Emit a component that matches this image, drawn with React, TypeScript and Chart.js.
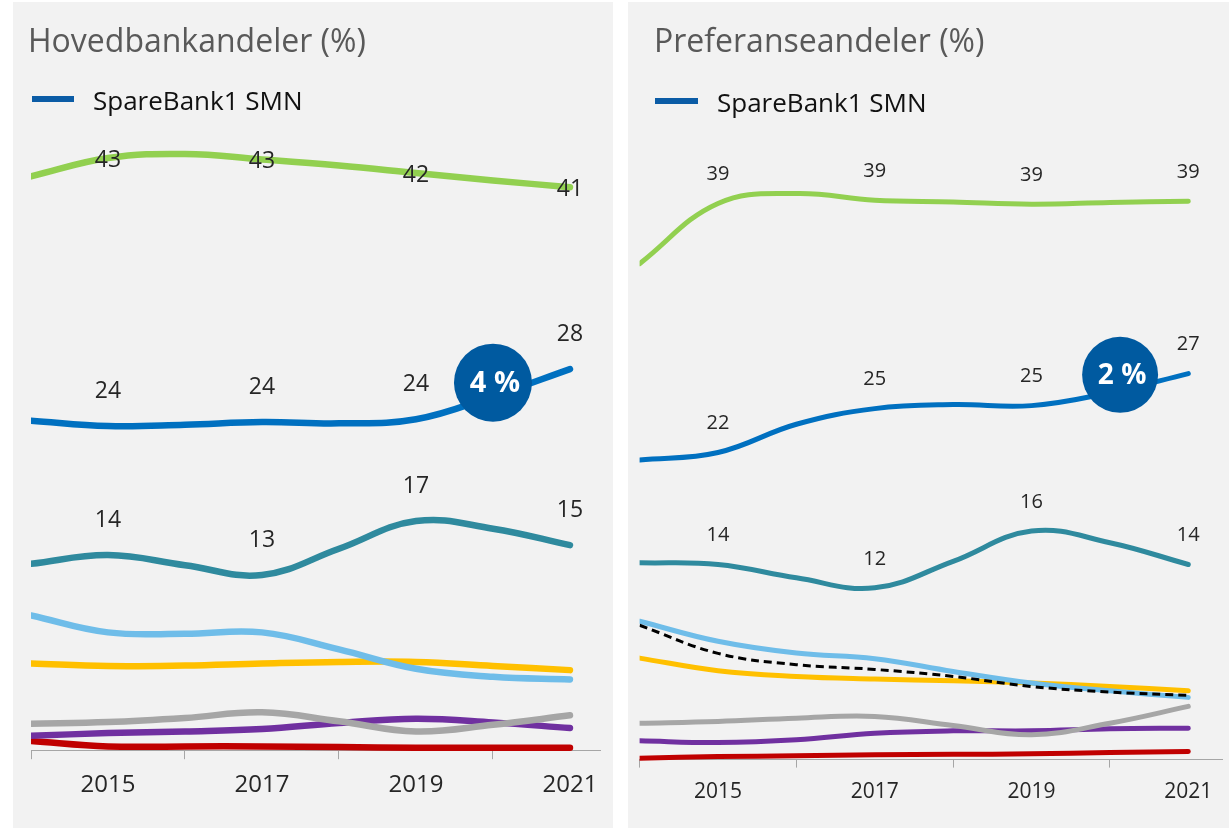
import React, { useEffect, useRef } from 'react';
import { Chart, registerables } from 'chart.js';

Chart.register(...registerables);

// ---------- data ----------
const years = [2014, 2015, 2016, 2017, 2018, 2019, 2020, 2021];
const labelYears = [2015, 2017, 2019, 2021];
const legendLabel = 'SpareBank1 SMN';

// Hovedbankandeler (%)
const hbSmn = [24.1, 23.7, 23.8, 24.0, 23.9, 24.2, 25.9, 27.9];
const hbGreen = [42.1, 43.45, 43.75, 43.35, 42.9, 42.35, 41.8, 41.3];
const hbTeal = [13.55, 14.2, 13.45, 12.73, 14.66, 16.7, 16.14, 14.93];
const hbLightBlue = [9.75, 8.5, 8.4, 8.5, 7.25, 5.82, 5.23, 5.03];
const hbYellow = [6.21, 6.02, 6.06, 6.21, 6.32, 6.32, 6.02, 5.72];
const hbGray = [1.77, 1.89, 2.19, 2.61, 1.95, 1.2, 1.69, 2.39];
const hbPurple = [0.88, 1.08, 1.2, 1.38, 1.82, 2.14, 1.87, 1.45];
const hbRed = [0.5, 0.1, 0.1, 0.1, 0.05, 0.0, 0.0, 0.0];
const hbBadge = { year: 2020, value: 26.9, text: '4 %' };

// Preferanseandeler (%)
const prSmn = [21.1, 21.63, 23.6, 24.69, 24.97, 24.9, 25.8, 27.13];
const prGreen = [34.8, 39.0, 39.7, 39.23, 39.11, 38.95, 39.07, 39.16];
const prTeal = [13.94, 13.82, 12.89, 12.19, 14.04, 16.15, 15.34, 13.82];
const prLightBlue = [9.86, 8.46, 7.64, 7.25, 6.36, 5.55, 5.01, 4.55];
const prDashed = [9.58, 7.62, 6.83, 6.5, 6.01, 5.31, 4.92, 4.69];
const prYellow = [7.29, 6.41, 6.01, 5.83, 5.71, 5.55, 5.31, 5.01];
const prGray = [2.75, 2.87, 3.1, 3.22, 2.59, 1.94, 2.75, 3.92];
const prPurple = [1.52, 1.4, 1.59, 2.05, 2.22, 2.22, 2.36, 2.4];
const prRed = [0.3, 0.42, 0.47, 0.54, 0.58, 0.61, 0.7, 0.77];
const prBadge = { year: 2020.13, value: 27.05, text: '2 %' };

// ---------- styles ----------
const C = {
  smn: '#0070C0',
  legend: '#0B5CA6',
  badge: '#005AA0',
  green: '#92D050',
  teal: '#2F8A9E',
  lightBlue: '#6FBDE9',
  yellow: '#FFC000',
  gray: '#A6A6A6',
  purple: '#7030A0',
  red: '#C00000',
  dashed: '#000000',
  text: '#262626',
  title: '#595959',
  axis: '#A6A6A6',
  panel: '#F2F2F2',
};
const FONT = '"Open Sans", "Noto Sans", sans-serif';

const valueLabels = {
  id: 'valueLabels',
  afterDatasetsDraw(chart: any, _args: any, opts: any) {
    const { ctx } = chart;
    ctx.save();
    ctx.font = `${opts.size}px ${FONT}`;
    ctx.fillStyle = C.text;
    ctx.textAlign = 'center';
    ctx.textBaseline = 'middle';
    chart.data.datasets.forEach((ds: any, di: number) => {
      if (ds.labelOffset === undefined) return;
      const meta = chart.getDatasetMeta(di);
      ds.data.forEach((pt: any, i: number) => {
        if (!labelYears.includes(pt.x)) return;
        const el = meta.data[i];
        ctx.fillText(String(Math.round(pt.y)), el.x, el.y + ds.labelOffset);
      });
    });
    ctx.restore();
  },
};

const badgePlugin = {
  id: 'badge',
  afterDatasetsDraw(chart: any, _args: any, opts: any) {
    const { ctx, scales } = chart;
    const cx = scales.x.getPixelForValue(opts.year);
    const cy = scales.y.getPixelForValue(opts.value);
    ctx.save();
    ctx.beginPath();
    ctx.arc(cx, cy, opts.radius, 0, Math.PI * 2);
    ctx.fillStyle = C.badge;
    ctx.fill();
    ctx.fillStyle = '#FFFFFF';
    ctx.font = `bold ${opts.size}px ${FONT}`;
    ctx.textAlign = 'center';
    ctx.textBaseline = 'middle';
    ctx.fillText(opts.text, cx + 2, cy + 1);
    ctx.restore();
  },
};

type Series = { values: number[]; color: string; width?: number; dash?: number[]; labelOffset?: number };

type PanelSpec = {
  left: number;
  width: number;
  title: string;
  titleLeft: number;
  legendLineLeft: number;
  legendLineTop: number;
  legendLineWidth: number;
  legendTextLeft: number;
  legendTextTop: number;
  series: Series[];
  lineWidth: number;
  badge: { year: number; value: number; text: string };
  badgeRadius: number;
  badgeSize: number;
  xMax: number;
  yMin: number;
  yMax: number;
  padding: { left: number; right: number; top: number; bottom: number };
  tickLength: number;
  tickPadding: number;
  tickFont: number;
  labelFont: number;
};

const toPoints = (vals: number[]) => years.map((yr, i) => ({ x: yr, y: vals[i] }));

function ChartPanel({ spec }: { spec: PanelSpec }) {
  const ref = useRef<HTMLCanvasElement | null>(null);
  useEffect(() => {
    if (!ref.current) return;
    const chart = new Chart(ref.current, {
      type: 'line',
      data: {
        datasets: spec.series.map((s) => ({
          data: toPoints(s.values),
          borderColor: s.color,
          backgroundColor: s.color,
          borderWidth: s.width ?? spec.lineWidth,
          borderDash: s.dash ?? [],
          borderCapStyle: s.dash ? 'butt' : 'round',
          borderJoinStyle: 'round',
          pointRadius: 0,
          pointHoverRadius: 0,
          tension: 0.4,
          fill: false,
          clip: { left: 0, top: false, right: false, bottom: false },
          labelOffset: s.labelOffset,
        })) as any,
      },
      options: {
        animation: false,
        responsive: false,
        events: [],
        layout: { padding: spec.padding },
        plugins: {
          legend: { display: false },
          tooltip: { enabled: false },
          title: { display: false },
          valueLabels: { size: spec.labelFont },
          badge: { ...spec.badge, radius: spec.badgeRadius, size: spec.badgeSize },
        } as any,
        scales: {
          x: {
            type: 'linear',
            min: years[0],
            max: spec.xMax,
            afterBuildTicks: (axis: any) => {
              axis.ticks = years.map((v) => ({ value: v }));
            },
            ticks: {
              autoSkip: false,
              maxRotation: 0,
              minRotation: 0,
              padding: spec.tickPadding,
              color: C.text,
              font: { family: FONT, size: spec.tickFont, lineHeight: 1.2 },
              callback: (v: any) => (labelYears.includes(Number(v)) ? String(v) : ''),
            },
            grid: {
              drawOnChartArea: false,
              drawTicks: true,
              tickLength: spec.tickLength,
              tickWidth: 1,
              tickColor: (ctx: any) =>
                ctx.tick && ctx.tick.value % 2 === 0 ? C.axis : 'rgba(0,0,0,0)',
            },
            border: { display: true, color: C.axis, width: 1 },
          },
          y: { display: false, min: spec.yMin, max: spec.yMax },
        },
      },
      plugins: [valueLabels, badgePlugin],
    } as any);
    return () => chart.destroy();
  }, [spec]);

  return (
    <div
      style={{
        position: 'absolute',
        left: spec.left,
        top: 2,
        width: spec.width,
        height: 826,
        background: C.panel,
        fontFamily: FONT,
      }}
    >
      <canvas ref={ref} width={spec.width} height={826} style={{ position: 'absolute', left: 0, top: 0 }} />
      <div
        style={{
          position: 'absolute',
          left: spec.titleLeft,
          top: 22,
          fontSize: 32,
          lineHeight: '32px',
          color: C.title,
          whiteSpace: 'nowrap',
        }}
      >
        {spec.title}
      </div>
      <div
        style={{
          position: 'absolute',
          left: spec.legendLineLeft,
          top: spec.legendLineTop,
          width: spec.legendLineWidth,
          height: 6,
          background: C.legend,
        }}
      />
      <div
        style={{
          position: 'absolute',
          left: spec.legendTextLeft,
          top: spec.legendTextTop,
          fontSize: 26,
          lineHeight: '26px',
          color: '#111111',
          whiteSpace: 'nowrap',
        }}
      >
        {legendLabel}
      </div>
    </div>
  );
}

const leftSpec: PanelSpec = {
  left: 13,
  width: 600,
  title: 'Hovedbankandeler (%)',
  titleLeft: 15,
  legendLineLeft: 19,
  legendLineTop: 94,
  legendLineWidth: 42,
  legendTextLeft: 80,
  legendTextTop: 85,
  series: [
    { values: hbSmn, color: C.smn, labelOffset: -35 },
    { values: hbGreen, color: C.green, labelOffset: 2 },
    { values: hbTeal, color: C.teal, labelOffset: -35 },
    { values: hbLightBlue, color: C.lightBlue },
    { values: hbYellow, color: C.yellow },
    { values: hbGray, color: C.gray },
    { values: hbPurple, color: C.purple },
    { values: hbRed, color: C.red },
  ],
  lineWidth: 6.5,
  badge: hbBadge,
  badgeRadius: 39,
  badgeSize: 29,
  xMax: 2021.39,
  yMin: -0.18,
  yMax: 44.41,
  padding: { left: 18, right: 13, top: 143, bottom: 16 },
  tickLength: 9,
  tickPadding: 12,
  tickFont: 24,
  labelFont: 23,
};

const rightSpec: PanelSpec = {
  left: 628,
  width: 601,
  title: 'Preferanseandeler (%)',
  titleLeft: 26,
  legendLineLeft: 27,
  legendLineTop: 96,
  legendLineWidth: 43,
  legendTextLeft: 89,
  legendTextTop: 87,
  series: [
    { values: prSmn, color: C.smn, labelOffset: -29 },
    { values: prGreen, color: C.green, labelOffset: -29 },
    { values: prTeal, color: C.teal, labelOffset: -29 },
    { values: prDashed, color: C.dashed, width: 3, dash: [8, 5] },
    { values: prLightBlue, color: C.lightBlue },
    { values: prYellow, color: C.yellow },
    { values: prGray, color: C.gray },
    { values: prPurple, color: C.purple },
    { values: prRed, color: C.red },
  ],
  lineWidth: 5,
  badge: prBadge,
  badgeRadius: 38,
  badgeSize: 28,
  xMax: 2021.43,
  yMin: 0.21,
  yMax: 42.73,
  padding: { left: 11, right: 7, top: 148, bottom: 12 },
  tickLength: 8,
  tickPadding: 11.6,
  tickFont: 21,
  labelFont: 20,
};

export default function App() {
  return (
    <div
      style={{
        position: 'absolute',
        left: 0,
        top: 0,
        width: 1229,
        height: 828,
        background: '#FFFFFF',
        overflow: 'hidden',
      }}
    >
      <ChartPanel spec={leftSpec} />
      <ChartPanel spec={rightSpec} />
    </div>
  );
}
